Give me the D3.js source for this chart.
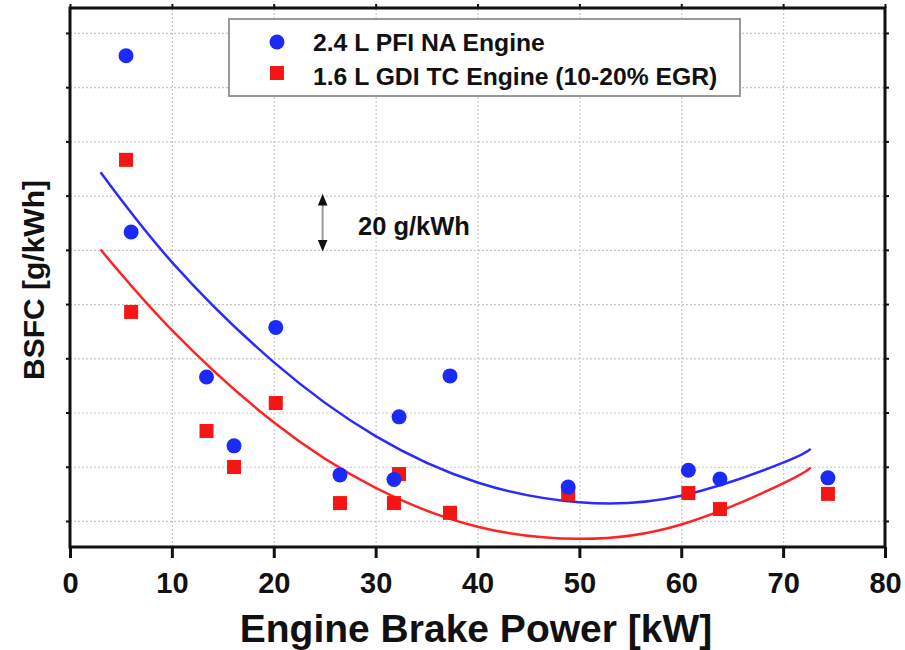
<!DOCTYPE html>
<html>
<head>
<meta charset="utf-8">
<script src="https://cdn.jsdelivr.net/npm/d3@7"></script>
<style>
    body { margin: 0; background: #fff; }
    #bsfc-chart { width: 905px; height: 650px; }
    text { font-family: "Liberation Sans", Arial, sans-serif; font-weight: bold; fill: #111; }
    .grid line { stroke: #c8c8c8; stroke-width: 1.2; stroke-dasharray: 2 2; }
    .grid path { display: none; }
</style>
</head>
<body>
<div id="bsfc-chart"></div>
<script>
// engine brake power [kW] and BSFC (g/kWh, arbitrary offset - no y labels in source)
const pfiPower = [5.5, 6.0, 13.4, 16.1, 20.2, 26.5, 31.8, 32.3, 37.3, 48.9, 60.7, 63.8, 74.4]
const pfiBsfc  = [391.6, 326.6, 273.1, 247.7, 291.4, 237.0, 235.3, 258.4, 273.5, 232.5, 238.7, 235.5, 235.9]

const gdiPower = [5.5, 6.0, 13.4, 16.1, 20.2, 26.5, 31.8, 32.3, 37.3, 48.9, 60.7, 63.8, 74.4]
const gdiBsfc  = [353.2, 297.1, 253.2, 239.9, 263.5, 226.6, 226.6, 237.3, 223.0, 230.0, 230.3, 224.4, 230.0]

// fitted curves
const fitPower = [3, 10, 20, 30, 40, 50, 60, 70, 72.7]
const pfiFit   = [348.6, 315.5, 278.6, 251.3, 234.2, 226.9, 229.3, 241.5, 246.6]
const gdiFit   = [320.1, 290.4, 256.4, 232.2, 217.9, 213.4, 218.7, 233.9, 239.7]

const xTicks = [0, 10, 20, 30, 40, 50, 60, 70, 80]
const yGrid = [220, 240, 260, 280, 300, 320, 340, 360, 380, 400]
const scaleBar = [320, 340]

const legendLabels = ["2.4 L PFI NA Engine", "1.6 L GDI TC Engine (10-20% EGR)"]

buildChart()

function buildChart() {
    let svg = d3.select("#bsfc-chart")
                .append("svg")
                    .attr("width", 905)
                    .attr("height", 650)

    let box = {left: 70, right: 885, top: 8, bottom: 547}

    let x = d3.scaleLinear().domain([0, 80]).range([box.left, box.right])
    let y = d3.scaleLinear().domain([210.4, 409.2]).range([box.bottom, box.top])

    // dotted grid
    svg.append("g")
        .attr("class", "grid")
        .attr("transform", `translate(0,${box.bottom})`)
        .call(d3.axisBottom(x).tickValues(xTicks.slice(1, -1)).tickSize(-(box.bottom - box.top)).tickFormat(""))
    svg.append("g")
        .attr("class", "grid")
        .attr("transform", `translate(${box.left},0)`)
        .call(d3.axisLeft(y).tickValues(yGrid).tickSize(-(box.right - box.left)).tickFormat(""))

    // axes
    let bottom = svg.append("g")
        .attr("transform", `translate(0,${box.bottom})`)
        .call(d3.axisBottom(x).tickValues(xTicks).tickSize(11).tickSizeOuter(0))
    bottom.select(".domain").remove()
    bottom.selectAll("line").attr("stroke", "#111").attr("stroke-width", 3)
    bottom.selectAll("text")
        .attr("y", 46).attr("dy", null)
        .style("font-size", "29px")
        .style("font-family", "'Liberation Sans', Arial, sans-serif")
        .style("font-weight", "bold")

    let top = svg.append("g")
        .attr("transform", `translate(0,${box.top})`)
        .call(d3.axisTop(x).tickValues(xTicks).tickSize(4).tickFormat(""))
    top.select(".domain").remove()
    top.selectAll("line").attr("stroke", "#111").attr("stroke-width", 2)

    let left = svg.append("g")
        .attr("transform", `translate(${box.left},0)`)
        .call(d3.axisLeft(y).tickValues(yGrid).tickSize(4).tickFormat(""))
    left.select(".domain").remove()
    left.selectAll("line").attr("stroke", "#111").attr("stroke-width", 2)

    let right = svg.append("g")
        .attr("transform", `translate(${box.right},0)`)
        .call(d3.axisRight(y).tickValues(yGrid).tickSize(4).tickFormat(""))
    right.select(".domain").remove()
    right.selectAll("line").attr("stroke", "#111").attr("stroke-width", 2)

    svg.append("rect")
        .attr("x", box.left)
        .attr("y", box.top)
        .attr("width", box.right - box.left)
        .attr("height", box.bottom - box.top)
        .attr("fill", "none")
        .attr("stroke", "#111")
        .attr("stroke-width", 3)

    // fit curves
    let line = d3.line()
        .x(d => x(d[0]))
        .y(d => y(d[1]))
        .curve(d3.curveNatural)

    svg.append("path")
        .datum(d3.zip(fitPower, pfiFit))
        .attr("d", line)
        .attr("fill", "none")
        .attr("stroke", "#2b2bff")
        .attr("stroke-width", 2.5)
    svg.append("path")
        .datum(d3.zip(fitPower, gdiFit))
        .attr("d", line)
        .attr("fill", "none")
        .attr("stroke", "#ff2424")
        .attr("stroke-width", 2.5)

    // points
    svg.selectAll("rect.gdi")
        .data(d3.zip(gdiPower, gdiBsfc))
        .enter().append("rect")
            .attr("class", "gdi")
            .attr("x", d => x(d[0]) - 7)
            .attr("y", d => y(d[1]) - 7)
            .attr("width", 14)
            .attr("height", 14)
            .attr("fill", "#f51515")

    svg.selectAll("circle.pfi")
        .data(d3.zip(pfiPower, pfiBsfc))
        .enter().append("circle")
            .attr("class", "pfi")
            .attr("cx", d => x(d[0]))
            .attr("cy", d => y(d[1]))
            .attr("r", 7.5)
            .attr("fill", "#1a2bf8")

    // 20 g/kWh scale bar
    let barX = x(24.8)
    svg.append("line")
        .attr("x1", barX).attr("x2", barX)
        .attr("y1", y(scaleBar[0]) - 8).attr("y2", y(scaleBar[1]) + 8)
        .attr("stroke", "#999")
        .attr("stroke-width", 2)
    let arrow = d3.symbol().type(d3.symbolTriangle).size(40)
    svg.append("path")
        .attr("d", arrow)
        .attr("transform", `translate(${barX},${y(scaleBar[1]) + 6}) scale(1,1.4)`)
        .attr("fill", "#111")
    svg.append("path")
        .attr("d", arrow)
        .attr("transform", `translate(${barX},${y(scaleBar[0]) - 6}) scale(1,-1.4)`)
        .attr("fill", "#111")
    svg.append("text")
        .attr("x", 358)
        .attr("y", 235)
        .style("font-size", "25.5px")
        .text("20 g/kWh")

    // legend
    svg.append("rect")
        .attr("x", 229)
        .attr("y", 19)
        .attr("width", 511)
        .attr("height", 77)
        .attr("fill", "#fff")
        .attr("stroke", "#999")
        .attr("stroke-width", 2)
    svg.append("circle")
        .attr("cx", 277).attr("cy", 42).attr("r", 7.5)
        .attr("fill", "#1a2bf8")
    svg.append("rect")
        .attr("x", 270).attr("y", 66).attr("width", 14).attr("height", 14)
        .attr("fill", "#f51515")
    svg.selectAll("text.legend")
        .data(legendLabels)
        .enter().append("text")
            .attr("class", "legend")
            .attr("x", 313)
            .attr("y", (d, i) => 51 + i * 34)
            .style("font-size", "24.7px")
            .text(d => d)

    // axis titles
    svg.append("text")
        .attr("x", 476)
        .attr("y", 642)
        .attr("text-anchor", "middle")
        .style("font-size", "39px")
        .text("Engine Brake Power [kW]")
    svg.append("text")
        .attr("transform", `translate(44,280) rotate(-90)`)
        .attr("text-anchor", "middle")
        .style("font-size", "30px")
        .text("BSFC [g/kWh]")
}
</script>
</body>
</html>
